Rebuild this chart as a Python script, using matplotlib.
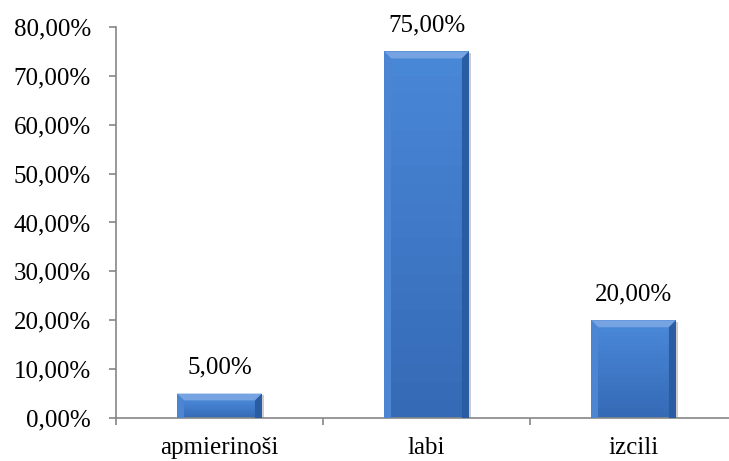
import matplotlib.pyplot as plt
from matplotlib.patches import Polygon
from matplotlib.ticker import FuncFormatter, FixedLocator

categories = ["apmierinoši", "labi", "izcili"]
values = [5.0, 75.0, 20.0]

plt.rcParams['font.family'] = ['Liberation Serif', 'DejaVu Serif']

fig = plt.figure(figsize=(7.29, 4.61), dpi=100)
ax = fig.add_axes([116 / 729, 43 / 461, 621 / 729, 391 / 461])

x = list(range(len(categories)))
bw = 0.41
bars = ax.bar(x, values, width=bw, color="#3f7bcb", zorder=2)

ax.set_xlim(-0.5, 2.5)
ax.set_ylim(0, 80)

# bevel sizes in data units (about 7 px each way)
bx = 7 / 207
by = 7 / 48.9 * 10

for b in bars:
    x0 = b.get_x()
    x1 = x0 + b.get_width()
    h = b.get_height()
    # soft shadow
    ax.add_patch(plt.Rectangle((x0 + 0.008, 0), b.get_width(), h - 0.3,
                               color="#9a9a9a", alpha=0.5, zorder=1, lw=0))
    ey = min(by, h / 3)
    top = Polygon([(x0, h), (x1, h), (x1 - bx, h - ey), (x0 + bx, h - ey)],
                  closed=True, color="#76a4e2", lw=0, zorder=3)
    left = Polygon([(x0, 0), (x0, h), (x0 + bx, h - ey), (x0 + bx, 0)],
                   closed=True, color="#4c86d3", lw=0, zorder=3)
    right = Polygon([(x1, 0), (x1, h), (x1 - bx, h - ey), (x1 - bx, 0)],
                    closed=True, color="#2a5ca3", lw=0, zorder=3)
    ax.add_patch(top)
    ax.add_patch(left)
    ax.add_patch(right)
    # inner face with a light-to-dark vertical shading
    n = 20
    fx0, fx1 = x0 + bx, x1 - bx
    fh = h - ey
    for i in range(n):
        t = i / (n - 1)
        r = 0x48 + (0x35 - 0x48) * t
        g = 0x86 + (0x6a - 0x86) * t
        bl = 0xd6 + (0xb6 - 0xd6) * t
        ax.add_patch(plt.Rectangle((fx0, fh * (1 - (i + 1) / n)), fx1 - fx0, fh / n,
                                   color=(r / 255, g / 255, bl / 255), lw=0, zorder=2.5))

for xi, v in zip(x, values):
    ax.annotate(("%.2f%%" % v).replace(".", ","), (xi, v), xytext=(0, 11),
                textcoords="offset points", ha="center", va="bottom", fontsize=18)

ax.yaxis.set_major_locator(FixedLocator(range(0, 81, 10)))
ax.yaxis.set_major_formatter(FuncFormatter(lambda v, p: ("%.2f%%" % v).replace(".", ",")))
ax.set_xticks(x)
ax.set_xticklabels(categories)
ax.set_xticks([-0.5, 0.5, 1.5, 2.5], minor=True)

ax.tick_params(axis="y", direction="out", length=5, width=1.2, color="#868686",
               pad=13, labelsize=18)
ax.tick_params(axis="x", which="major", length=0, pad=14, labelsize=18)
ax.tick_params(axis="x", which="minor", direction="out", length=5, width=1.2,
               color="#868686")

for s in ["top", "right"]:
    ax.spines[s].set_visible(False)
for s in ["left", "bottom"]:
    ax.spines[s].set_color("#868686")
    ax.spines[s].set_linewidth(1.2)

fig.savefig("out.png", dpi=100)
